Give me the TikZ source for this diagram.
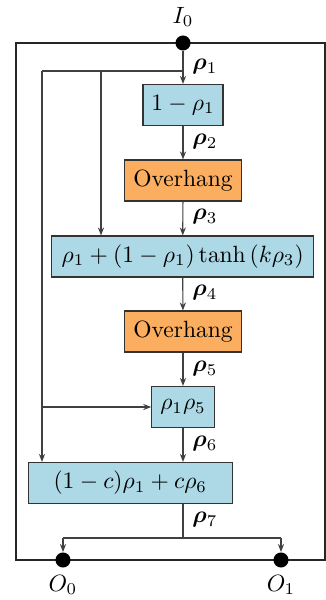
\documentclass[tikz,border=0pt]{standalone}
\usepackage{bm}
\usetikzlibrary{arrows.meta}
\definecolor{boxblue}{RGB}{173,216,230}
\definecolor{boxorange}{RGB}{251,174,96}
\begin{document}
\begin{tikzpicture}[x=0.425pt,y=-0.425pt,
  conn/.style={draw=black!75,line width=0.5pt},
  arr/.style={conn,-{Stealth[length=3.4pt,width=2.6pt]}},
  bluebox/.style={draw=black!80,fill=boxblue,line width=0.5pt,minimum height=17.4pt,inner sep=2pt,font=\normalsize},
  orangebox/.style={draw=black!80,fill=boxorange,line width=0.5pt,minimum height=17.4pt,inner sep=2pt},
  rholab/.style={anchor=west,inner sep=0pt},
  port/.style={circle,fill=black,inner sep=0pt,minimum size=6.4pt}]
\useasboundingbox (0,0) rectangle (326,600);
\draw[black!85,line width=0.5pt] (16,43) rectangle (325,560);
\node[port] (in) at (183,43) {};
\node (inl) at (183,17) {$I_0$};
\node[port] (o0) at (63,560) {};
\node[port] (o1) at (281,560) {};
\node (o0l) at (63,585) {$O_0$};
\node (o1l) at (281,585) {$O_1$};
\node[bluebox,minimum width=34pt] (b1) at (183,105) {$1-\rho_1$};
\node[orangebox,minimum width=49.9pt] (oh1) at (183,180.5) {Overhang};
\node[bluebox,minimum width=111.4pt] (b3) at (182.7,256.5) {$\rho_1+(1-\rho_1)\tanh\left(k\rho_3\right)$};
\node[orangebox,minimum width=49.9pt] (oh2) at (183,331.5) {Overhang};
\node[bluebox,minimum width=26.5pt] (b5) at (183,407) {$\rho_1\rho_5$};
\node[bluebox,minimum width=86.7pt] (b6) at (130.3,483) {$(1-c)\rho_1+c\rho_6$};
\coordinate (s1) at (183,71);
\coordinate (s2) at (101,71);
\coordinate (s3) at (42,71);
\coordinate (s4) at (42,407);
\coordinate (s5) at (183,538);
\coordinate (s6) at (63,538);
\coordinate (s7) at (281,538);
\draw[arr] (in) -- (b1);
\draw[arr] (b1) -- (oh1);
\draw[arr] (oh1) -- (b3);
\draw[arr] (b3) -- (oh2);
\draw[arr] (oh2) -- (b5);
\draw[arr] (b5) -- (b5 |- b6.north);
\draw[conn] (s1) -- (s3);
\draw[arr] (s2) -- (s2 |- b3.north);
\draw[arr] (s3) -- (s3 |- b6.north);
\draw[arr] (s4) -- (b5.west);
\draw[conn] (s5 |- b6.south) -- (s5);
\draw[conn] (s6) -- (s7);
\draw[arr] (s6) -- (o0);
\draw[arr] (s7) -- (o1);
\node[rholab] (r1) at (192,67) {$\bm{\rho}_1$};
\node[rholab] (r2) at (192,142) {$\bm{\rho}_2$};
\node[rholab] (r3) at (192,217) {$\bm{\rho}_3$};
\node[rholab] (r4) at (192,293) {$\bm{\rho}_4$};
\node[rholab] (r5) at (192,369) {$\bm{\rho}_5$};
\node[rholab] (r6) at (192,444) {$\bm{\rho}_6$};
\node[rholab] (r7) at (192,520) {$\bm{\rho}_7$};
\end{tikzpicture}
\end{document}
